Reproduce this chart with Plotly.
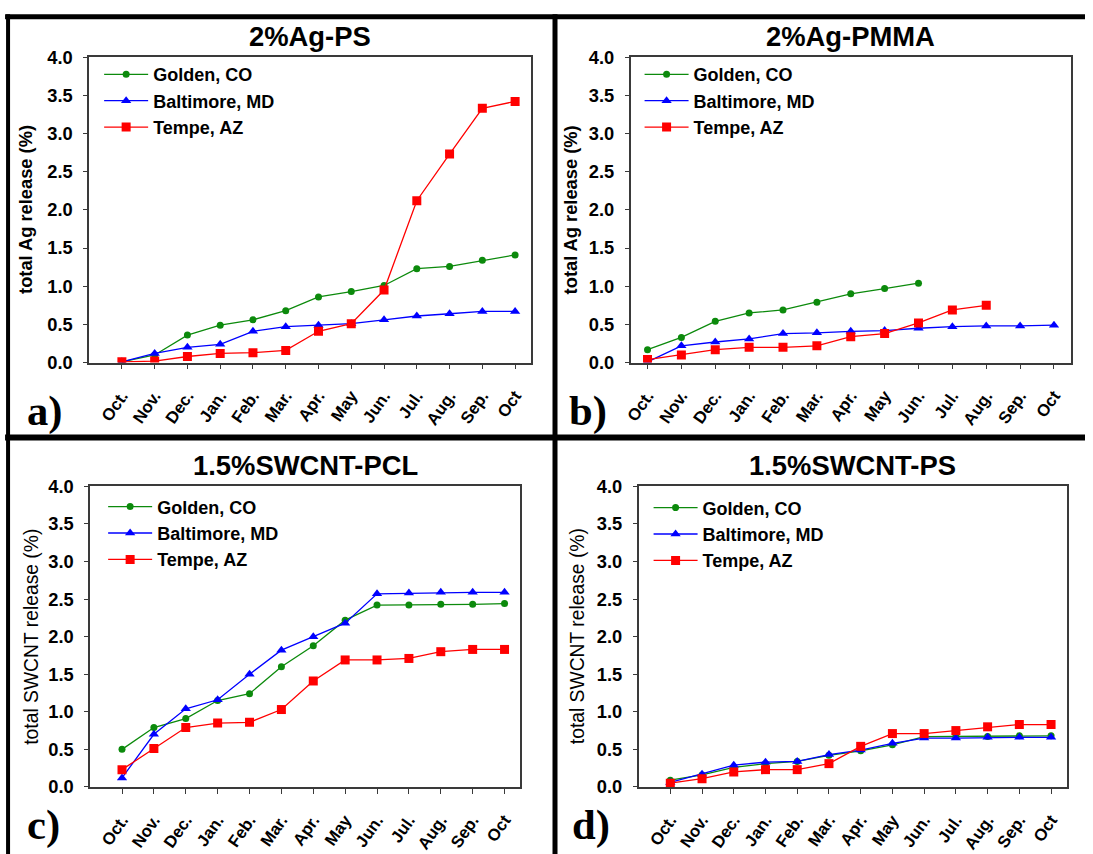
import plotly.graph_objects as go

# Sampling months (Oct. through the following Oct)
months = ["Oct.", "Nov.", "Dec.", "Jan.", "Feb.", "Mar.", "Apr.", "May",
          "Jun.", "Jul.", "Aug.", "Sep.", "Oct"]
sites = ["Golden, CO", "Baltimore, MD", "Tempe, AZ"]

# a) 2%Ag-PS, total Ag release (%)
ag_ps_golden = [0.01, 0.10, 0.36, 0.49, 0.56, 0.68, 0.86, 0.93, 1.01, 1.23, 1.26, 1.34, 1.41]
ag_ps_baltimore = [0.01, 0.12, 0.20, 0.24, 0.41, 0.47, 0.49, 0.51, 0.56, 0.61, 0.64, 0.67, 0.67]
ag_ps_tempe = [0.01, 0.02, 0.08, 0.12, 0.13, 0.16, 0.41, 0.51, 0.95, 2.12, 2.73, 3.33, 3.42]

# b) 2%Ag-PMMA, total Ag release (%)
ag_pmma_golden = [0.17, 0.33, 0.54, 0.65, 0.69, 0.79, 0.90, 0.97, 1.04]
ag_pmma_baltimore = [0.01, 0.22, 0.27, 0.31, 0.38, 0.39, 0.41, 0.42, 0.45, 0.47, 0.48, 0.48, 0.49]
ag_pmma_tempe = [0.04, 0.10, 0.17, 0.20, 0.20, 0.22, 0.34, 0.38, 0.52, 0.69, 0.75]

# c) 1.5%SWCNT-PCL, total SWCNT release (%)
cnt_pcl_golden = [0.50, 0.79, 0.91, 1.15, 1.24, 1.60, 1.88, 2.22, 2.42, 2.42, 2.43, 2.43, 2.44]
cnt_pcl_baltimore = [0.12, 0.70, 1.04, 1.16, 1.50, 1.82, 2.00, 2.18, 2.57, 2.58, 2.59, 2.59, 2.59]
cnt_pcl_tempe = [0.23, 0.51, 0.79, 0.85, 0.86, 1.03, 1.41, 1.69, 1.69, 1.71, 1.80, 1.83, 1.83]

# d) 1.5%SWCNT-PS, total SWCNT release (%)
cnt_ps_golden = [0.09, 0.16, 0.26, 0.31, 0.34, 0.42, 0.48, 0.56, 0.67, 0.67, 0.67, 0.68, 0.68]
cnt_ps_baltimore = [0.06, 0.17, 0.29, 0.33, 0.34, 0.43, 0.49, 0.58, 0.65, 0.65, 0.66, 0.66, 0.66]
cnt_ps_tempe = [0.05, 0.11, 0.20, 0.23, 0.23, 0.31, 0.54, 0.71, 0.71, 0.75, 0.80, 0.83, 0.83]

y_ticks = [0.0, 0.5, 1.0, 1.5, 2.0, 2.5, 3.0, 3.5, 4.0]

# Layout grid: positions below are given on a 1093 x 854 sheet.  The page that
# holds the figure is 1101 x 874 with an 8 px body margin, and the sheet is that
# page scaled down, so each sheet pixel is mapped back to figure pixels.
SHEET_W, SHEET_H = 1093, 854
PAGE_W, PAGE_H, PAD = 1101, 874, 8
W, H = PAGE_W - 2 * PAD, PAGE_H - 2 * PAD
SX, SY = SHEET_W / PAGE_W, SHEET_H / PAGE_H


def px(x):
    """Sheet x pixel -> paper fraction."""
    return (x / SX - PAD) / W


def py(y):
    """Sheet y pixel (from top) -> paper fraction."""
    return 1 - (y / SY - PAD) / H


def fs(size):
    """Font size on the sheet -> font size in the figure."""
    return round(size / ((SX + SY) / 2), 1)


styles = [
    dict(color="#0c8a0c", symbol="circle", size=7),
    dict(color="#0000ff", symbol="triangle-up", size=9),
    dict(color="#ff0000", symbol="square", size=9),
]

panels = [
    dict(label="a)", title="2%Ag-PS", ytitle="total Ag release (%)", bold_ytitle=True,
         series=[ag_ps_golden, ag_ps_baltimore, ag_ps_tempe],
         xdom=(90, 532), ydom=(54, 360), xrange=[-1, 12.5],
         ytitle_x=27, label_x=26, label_y=408, legend_xy=(100, 53)),
    dict(label="b)", title="2%Ag-PMMA", ytitle="total Ag release (%)", bold_ytitle=True,
         series=[ag_pmma_golden, ag_pmma_baltimore, ag_pmma_tempe],
         xdom=(631, 1071), ydom=(54, 360), xrange=[-0.5, 12.5],
         ytitle_x=571, label_x=567, label_y=408, legend_xy=(640, 53)),
    dict(label="c)", title="1.5%SWCNT-PCL", ytitle="total SWCNT release (%)", bold_ytitle=False,
         series=[cnt_pcl_golden, cnt_pcl_baltimore, cnt_pcl_tempe],
         xdom=(91, 521), ydom=(484, 785), xrange=[-1, 12.5],
         ytitle_x=33, label_x=26, label_y=823, legend_xy=(104, 486)),
    dict(label="d)", title="1.5%SWCNT-PS", ytitle="total SWCNT release (%)", bold_ytitle=False,
         series=[cnt_ps_golden, cnt_ps_baltimore, cnt_ps_tempe],
         xdom=(639, 1067), ydom=(484, 785), xrange=[-1, 12.5],
         ytitle_x=578, label_x=570, label_y=823, legend_xy=(649, 487)),
]

FONT = "Liberation Sans, Arial, sans-serif"
fig = go.Figure()
annotations = []
layout = {}

for i, p in enumerate(panels):
    n = i + 1
    xa = "x" if n == 1 else f"x{n}"
    ya = "y" if n == 1 else f"y{n}"
    lg = "legend" if n == 1 else f"legend{n}"
    for name, vals, st in zip(sites, p["series"], styles):
        fig.add_trace(go.Scatter(
            x=months[:len(vals)], y=vals, name=name, mode="lines+markers",
            xaxis=xa, yaxis=ya, legend=lg,
            line=dict(color=st["color"], width=1.3),
            marker=dict(color=st["color"], symbol=st["symbol"], size=st["size"],
                        line=dict(width=0)),
        ))
    axis_common = dict(showgrid=False, zeroline=False, showline=True, mirror=True,
                       linecolor="#3a3a3a", linewidth=1.5, ticks="outside",
                       tickcolor="#3a3a3a", tickwidth=1.2)
    layout["xaxis" if n == 1 else f"xaxis{n}"] = dict(
        axis_common, domain=[px(p["xdom"][0]), px(p["xdom"][1])],
        anchor=ya, type="category", categoryorder="array", categoryarray=months,
        range=p["xrange"], ticklen=5, tickangle=-55, ticklabelstandoff=10,
        tickfont=dict(family=FONT, size=fs(16.5), color="black", weight="bold"),
    )
    layout["yaxis" if n == 1 else f"yaxis{n}"] = dict(
        axis_common, domain=[py(p["ydom"][1]), py(p["ydom"][0])],
        anchor=xa, range=[0, 4.0], tickvals=y_ticks,
        ticktext=[f"{v:.1f}" for v in y_ticks], ticklen=4, ticklabelstandoff=7,
        tickfont=dict(family=FONT, size=fs(18), color="black", weight="bold"),
    )
    layout[lg] = dict(
        x=px(p["legend_xy"][0]), y=py(p["legend_xy"][1]), xanchor="left", yanchor="top",
        bgcolor="rgba(0,0,0,0)", borderwidth=0, itemwidth=44, tracegroupgap=0,
        font=dict(family=FONT, size=18, color="black", weight="bold"),
    )
    xc = (p["xdom"][0] + p["xdom"][1]) / 2
    annotations.append(dict(
        text=p["title"], x=px(xc), y=py(p["ydom"][0] - 21), xref="paper", yref="paper",
        xanchor="center", yanchor="middle", showarrow=False,
        font=dict(family=FONT, size=fs(27), color="black", weight="bold")))
    yc = (p["ydom"][0] + p["ydom"][1]) / 2
    annotations.append(dict(
        text=p["ytitle"], x=px(p["ytitle_x"]), y=py(yc), xref="paper", yref="paper",
        xanchor="center", yanchor="middle", showarrow=False, textangle=-90,
        font=dict(family=FONT, size=fs(18) if p["bold_ytitle"] else fs(19), color="black",
                  weight="bold" if p["bold_ytitle"] else "normal")))
    annotations.append(dict(
        text=p["label"], x=px(p["label_x"]), y=py(p["label_y"]), xref="paper", yref="paper",
        xanchor="left", yanchor="middle", showarrow=False,
        font=dict(family="Liberation Serif, Times New Roman, serif", size=fs(42),
                  color="black", weight="bold")))

# Panel frame: outer border and the dividers between the four panels
frame = [
    ((6, 13.5), (SHEET_W, 13.5), 5),
    ((9, 11), (9, SHEET_H), 4),
    ((555.5, 11), (555.5, SHEET_H), 5),
    ((6, 435), (SHEET_W, 435), 6),
]
shapes = [dict(type="line", xref="paper", yref="paper",
               x0=px(a[0]), y0=py(a[1]), x1=px(b[0]), y1=py(b[1]),
               line=dict(color="black", width=w)) for a, b, w in frame]

fig.update_layout(
    width=W, height=H, margin=dict(l=0, r=0, t=0, b=0),
    paper_bgcolor="white", plot_bgcolor="white",
    annotations=annotations, shapes=shapes, showlegend=True,
    **layout,
)

fig.write_html("out.html")
